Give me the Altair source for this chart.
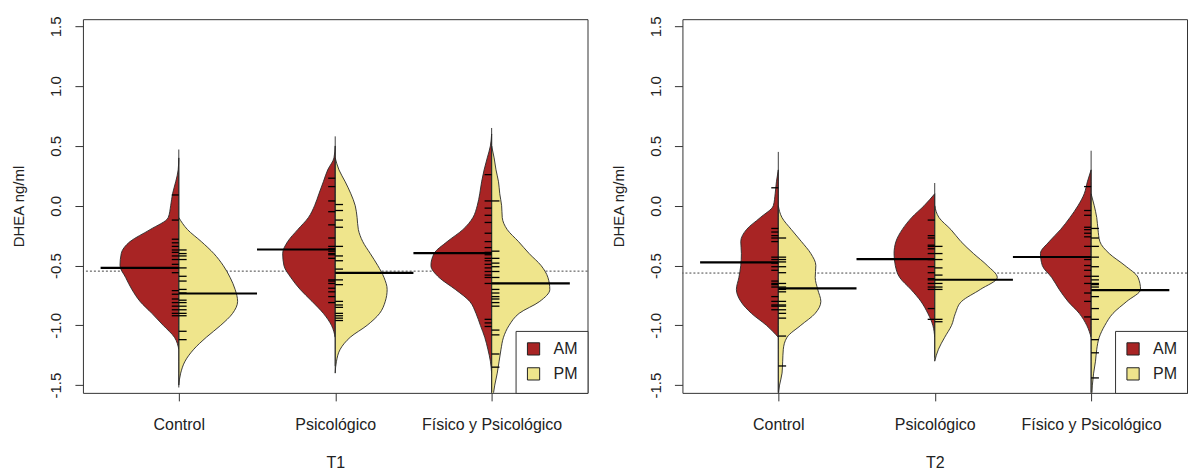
import json

import altair as alt
import pandas as pd

# ---------------------------------------------------------------------------
# Data: DHEA (ng/ml, log10) by group, time point and sampling moment
# ---------------------------------------------------------------------------
GROUPS = ["Control", "Psicológico", "Físico y Psicológico"]
TIMES = ["T1", "T2"]
SIDES = ["AM", "PM"]
FILLS = ["#A82424", "#EFE58C"]

# y positions at which the bean outlines are given
Y_GRID = [0.7, 0.6, 0.5, 0.4, 0.3, 0.2, 0.1, 0.0, -0.1, -0.2, -0.3, -0.4,
          -0.5, -0.6, -0.7, -0.8, -0.9, -1.0, -1.1, -1.2, -1.3, -1.4, -1.5, -1.6]

N = None
# relative density of each half bean along Y_GRID (1 = widest half bean)
T1_CONTROL_AM = [N, N, N, 0, .01, .05, .10, .13, .17, .46, .78, .92, .94, .85, .75, .62, .43, .25, .07, 0, N, N, N, N]
T1_CONTROL_PM = [N, N, N, N, N, N, N, N, 0, .14, .36, .56, .71, .82, .90, .94, .86, .67, .44, .24, .10, .03, 0, N]
T1_PSICO_AM = [N, N, 0, .02, .12, .19, .26, .33, .43, .60, .76, .84, .82, .71, .56, .37, .19, .06, 0, N, N, N, N, N]
T1_PSICO_PM = [N, N, N, 0, .06, .16, .25, .32, .35, .37, .44, .56, .68, .78, .83, .80, .71, .51, .24, .08, .02, 0, N, N]
T1_FISICO_AM = [N, 0, .02, .07, .12, .16, .19, .23, .30, .46, .71, .92, .97, .84, .58, .35, .25, .18, .11, .06, .02, 0, N, N]
T1_FISICO_PM = [N, N, 0, .04, .07, .11, .13, .16, .17, .25, .43, .60, .79, .90, .93, .77, .44, .28, .19, .15, .12, .09, .05, .02]

T2_CONTROL_AM = [N, N, N, N, 0, .03, .05, .08, .29, .51, .60, .59, .60, .63, .67, .60, .43, .19, 0, N, N, N, N, N]
T2_CONTROL_PM = [N, N, N, N, N, N, N, 0, .06, .21, .37, .52, .60, .59, .63, .68, .59, .36, .14, .08, .07, .06, .02, 0]
T2_PSICO_AM = [N, N, N, N, N, N, 0, .17, .37, .52, .62, .65, .63, .56, .38, .22, .11, .03, 0, N, N, N, N, N]
T2_PSICO_PM = [N, N, N, N, N, N, N, 0, .07, .26, .42, .62, .84, 1.0, .73, .43, .33, .27, .16, .06, 0, N, N, N]
T2_FISICO_AM = [N, N, N, N, 0, .06, .11, .21, .34, .49, .67, .81, .78, .63, .51, .37, .19, .07, 0, N, N, N, N, N]
T2_FISICO_PM = [N, N, N, N, N, N, 0, .05, .09, .11, .14, .29, .54, .75, .79, .57, .35, .22, .13, .09, .07, .04, .02, .01]

# individual observations (bean lines)
T1_CONTROL_AM_OBS = [0.09, -0.12, -0.28, -0.31, -0.34, -0.37, -0.39, -0.42, -0.45, -0.49,
                     -0.52, -0.56, -0.71, -0.74, -0.78, -0.81, -0.84, -0.87, -0.90, -0.92]
T1_CONTROL_PM_OBS = [-0.37, -0.40, -0.42, -0.45, -0.52, -0.59, -0.63, -0.70, -0.73, -0.79,
                     -0.81, -0.84, -0.87, -0.90, -0.92, -1.05, -1.12]
T1_PSICO_AM_OBS = [0.23, 0.16, 0.04, -0.05, -0.16, -0.27, -0.34, -0.36, -0.38, -0.40,
                   -0.41, -0.44, -0.62, -0.63, -0.65, -0.69, -0.72, -0.76, -0.81]
T1_PSICO_PM_OBS = [0.01, -0.04, -0.12, -0.18, -0.34, -0.42, -0.46, -0.53, -0.62, -0.66,
                   -0.80, -0.83, -0.85, -0.90, -0.92, -0.94, -0.96]
T1_FISICO_AM_OBS = [0.26, 0.04, -0.02, -0.08, -0.14, -0.23, -0.30, -0.35, -0.39, -0.41, -0.44,
                    -0.46, -0.49, -0.52, -0.55, -0.58, -0.60, -0.65, -0.95, -0.98, -1.01]
T1_FISICO_PM_OBS = [0.04, -0.38, -0.44, -0.48, -0.51, -0.55, -0.60, -0.65, -0.70, -0.73,
                    -0.76, -0.78, -0.81, -0.84, -1.04, -1.08, -1.24, -1.35]

T2_CONTROL_AM_OBS = [0.15, -0.19, -0.22, -0.25, -0.27, -0.30, -0.43, -0.45, -0.48, -0.51,
                     -0.54, -0.63, -0.65, -0.66, -0.68, -0.76, -0.80, -0.83, -0.84, -0.87]
T2_CONTROL_PM_OBS = [-0.27, -0.43, -0.45, -0.47, -0.51, -0.56, -0.65, -0.68, -0.70, -0.72,
                     -0.80, -0.83, -0.84, -0.87, -0.90, -0.94, -1.09, -1.34]
T2_PSICO_AM_OBS = [-0.12, -0.25, -0.27, -0.33, -0.34, -0.36, -0.40, -0.45, -0.51, -0.56,
                   -0.61, -0.62, -0.65, -0.68, -0.70, -0.86, -0.95]
T2_PSICO_PM_OBS = [-0.34, -0.40, -0.45, -0.52, -0.58, -0.65, -0.68, -0.70, -0.95, -0.97]
T2_FISICO_AM_OBS = [0.16, -0.04, -0.08, -0.18, -0.20, -0.23, -0.26, -0.34, -0.43, -0.45,
                    -0.50, -0.54, -0.59, -0.65, -0.73, -0.80, -0.93]
T2_FISICO_PM_OBS = [-0.19, -0.27, -0.34, -0.43, -0.51, -0.59, -0.62, -0.65, -0.66, -0.68,
                    -0.76, -0.86, -0.95, -1.12, -1.23, -1.44]

# vertical extent of each bean (thin centre line)
T1_BEAN_TOP = [0.47, 0.58, 0.65]
T1_BEAN_BOTTOM = [-1.52, -1.34, -1.60]
T2_BEAN_TOP = [0.45, 0.19, 0.46]
T2_BEAN_BOTTOM = [-1.60, -1.27, -1.60]

# bean means per group
T1_MEAN_AM = [-0.520, -0.366, -0.396]
T1_MEAN_PM = [-0.734, -0.561, -0.650]
T2_MEAN_AM = [-0.474, -0.446, -0.429]
T2_MEAN_PM = [-0.691, -0.619, -0.705]

# overall mean of each time point (dotted line)
OVERALL_MEAN = [-0.547, -0.563]

# ---------------------------------------------------------------------------
# Tables
# ---------------------------------------------------------------------------
PROFILES = {
    ("T1", "AM"): [T1_CONTROL_AM, T1_PSICO_AM, T1_FISICO_AM],
    ("T1", "PM"): [T1_CONTROL_PM, T1_PSICO_PM, T1_FISICO_PM],
    ("T2", "AM"): [T2_CONTROL_AM, T2_PSICO_AM, T2_FISICO_AM],
    ("T2", "PM"): [T2_CONTROL_PM, T2_PSICO_PM, T2_FISICO_PM],
}
OBSERVATIONS = {
    ("T1", "AM"): [T1_CONTROL_AM_OBS, T1_PSICO_AM_OBS, T1_FISICO_AM_OBS],
    ("T1", "PM"): [T1_CONTROL_PM_OBS, T1_PSICO_PM_OBS, T1_FISICO_PM_OBS],
    ("T2", "AM"): [T2_CONTROL_AM_OBS, T2_PSICO_AM_OBS, T2_FISICO_AM_OBS],
    ("T2", "PM"): [T2_CONTROL_PM_OBS, T2_PSICO_PM_OBS, T2_FISICO_PM_OBS],
}
MEANS = {
    ("T1", "AM"): T1_MEAN_AM, ("T1", "PM"): T1_MEAN_PM,
    ("T2", "AM"): T2_MEAN_AM, ("T2", "PM"): T2_MEAN_PM,
}
EXTENTS = {"T1": (T1_BEAN_TOP, T1_BEAN_BOTTOM), "T2": (T2_BEAN_TOP, T2_BEAN_BOTTOM)}

HALF_WIDTH = 0.40      # x units of a half bean with relative density 1
TICK_LEN = {"AM": 0.045, "PM": 0.05}
MEAN_LEN = 0.5

FONT = "Liberation Sans, Arial, Helvetica, sans-serif"
TEXT = "#222222"
X_DOMAIN = [0.387, 3.613]
Y_DOMAIN = [-1.565, 1.56]
Y_TICKS = [-1.5, -1.0, -0.5, 0.0, 0.5, 1.0, 1.5]
SIGN = "(datum.side === 'AM' ? -1 : 1)"


def panel(ti, time):
    shape_rows, obs_rows, mean_rows, line_rows = [], [], [], []
    for side in SIDES:
        for gi, group in enumerate(GROUPS):
            for y, d in zip(Y_GRID, PROFILES[(time, side)][gi]):
                if d is not None:
                    shape_rows.append({"group": group, "pos": gi + 1, "side": side, "y": y, "dens": d})
            for v in OBSERVATIONS[(time, side)][gi]:
                obs_rows.append({"group": group, "pos": gi + 1, "side": side, "y": v,
                                 "len": TICK_LEN[side]})
            mean_rows.append({"group": group, "pos": gi + 1, "side": side,
                              "y": MEANS[(time, side)][gi]})
    tops, bottoms = EXTENTS[time]
    for gi, group in enumerate(GROUPS):
        line_rows.append({"group": group, "pos": gi + 1, "top": tops[gi], "bottom": bottoms[gi]})

    x_scale = alt.Scale(domain=X_DOMAIN, nice=False, zero=False)
    y_scale = alt.Scale(domain=Y_DOMAIN, nice=False, zero=False)
    x_axis = alt.Axis(
        values=[1, 2, 3],
        labelExpr=json.dumps(GROUPS, ensure_ascii=False) + "[datum.value - 1]",
        labelAngle=0, labelFlush=False, labelOverlap=False, labelPadding=16,
        labelFontSize=16, tickSize=8, title=time, titleFontSize=16, titlePadding=22,
    )
    y_axis = alt.Axis(
        values=Y_TICKS,
        labelExpr="(datum.value < 0 ? '-' : '') + format(abs(datum.value), '.1f')",
        labelAngle=270, labelAlign="center", labelBaseline="bottom",
        labelFlush=False, labelOverlap=False, labelPadding=11, tickSize=8,
        title="DHEA ng/ml", titleX=-64, titleY=187, titleAngle=270,
        titleAlign="center", titleBaseline="middle",
    )

    def X(field):
        return alt.X(field, type="quantitative", scale=x_scale, axis=x_axis)

    def Y(field):
        return alt.Y(field, type="quantitative", scale=y_scale, axis=y_axis)

    overall = alt.Chart(pd.DataFrame({"overall": [OVERALL_MEAN[ti]]})).mark_rule(
        color="#444444", strokeDash=[2, 2], strokeWidth=1
    ).encode(y=Y("overall"))

    beans = alt.Chart(pd.DataFrame(shape_rows)).transform_calculate(
        outer=f"datum.pos + {SIGN} * datum.dens * {HALF_WIDTH}"
    ).mark_area(
        orient="horizontal", interpolate="monotone", stroke="#2a2a2a",
        strokeWidth=0.9, opacity=1, clip=True
    ).encode(
        y=Y("y"),
        x=X("outer"),
        x2="pos:Q",
        color=alt.Color(
            "side:N",
            scale=alt.Scale(domain=SIDES, range=FILLS),
            legend=alt.Legend(
                title=None, orient="bottom-right", offset=0, padding=10,
                strokeColor="#333333", fillColor="white", cornerRadius=0,
                symbolType="square", symbolSize=150, symbolStrokeColor="#222222",
                symbolStrokeWidth=1, symbolOpacity=1, labelFont=FONT,
                labelFontSize=16, labelColor=TEXT, labelOffset=12, rowPadding=7,
            ),
        ),
        detail="group:N",
    )

    centre = alt.Chart(pd.DataFrame(line_rows)).mark_rule(
        color="#2a2a2a", strokeWidth=0.9, clip=True
    ).encode(x=X("pos"), y=Y("top"), y2="bottom:Q")

    bean_lines = alt.Chart(pd.DataFrame(obs_rows)).transform_calculate(
        tip=f"datum.pos + {SIGN} * datum.len"
    ).mark_rule(color="black", strokeWidth=1.3).encode(
        x=X("pos"), x2="tip:Q", y=Y("y")
    )

    mean_lines = alt.Chart(pd.DataFrame(mean_rows)).transform_calculate(
        tip=f"datum.pos + {SIGN} * {MEAN_LEN}"
    ).mark_rule(color="black", strokeWidth=2.2).encode(
        x=X("pos"), x2="tip:Q", y=Y("y")
    )

    return alt.layer(overall, beans, centre, bean_lines, mean_lines).properties(
        width=505, height=374
    )


chart = alt.hconcat(
    panel(0, "T1"), panel(1, "T2"), spacing=95, bounds="flush"
).resolve_scale(
    color="independent"
).properties(
    padding={"left": 11, "top": 15, "right": 1, "bottom": 0}
).configure_view(
    stroke="#333333", strokeWidth=1
).configure_axis(
    grid=False, domain=False, tickColor="#333333", tickWidth=1,
    labelFont=FONT, labelFontSize=15, labelColor=TEXT,
    titleFont=FONT, titleFontSize=15, titleFontWeight="normal", titleColor=TEXT,
)

chart.save("out.html", embed_options={"renderer": "svg", "actions": False})
